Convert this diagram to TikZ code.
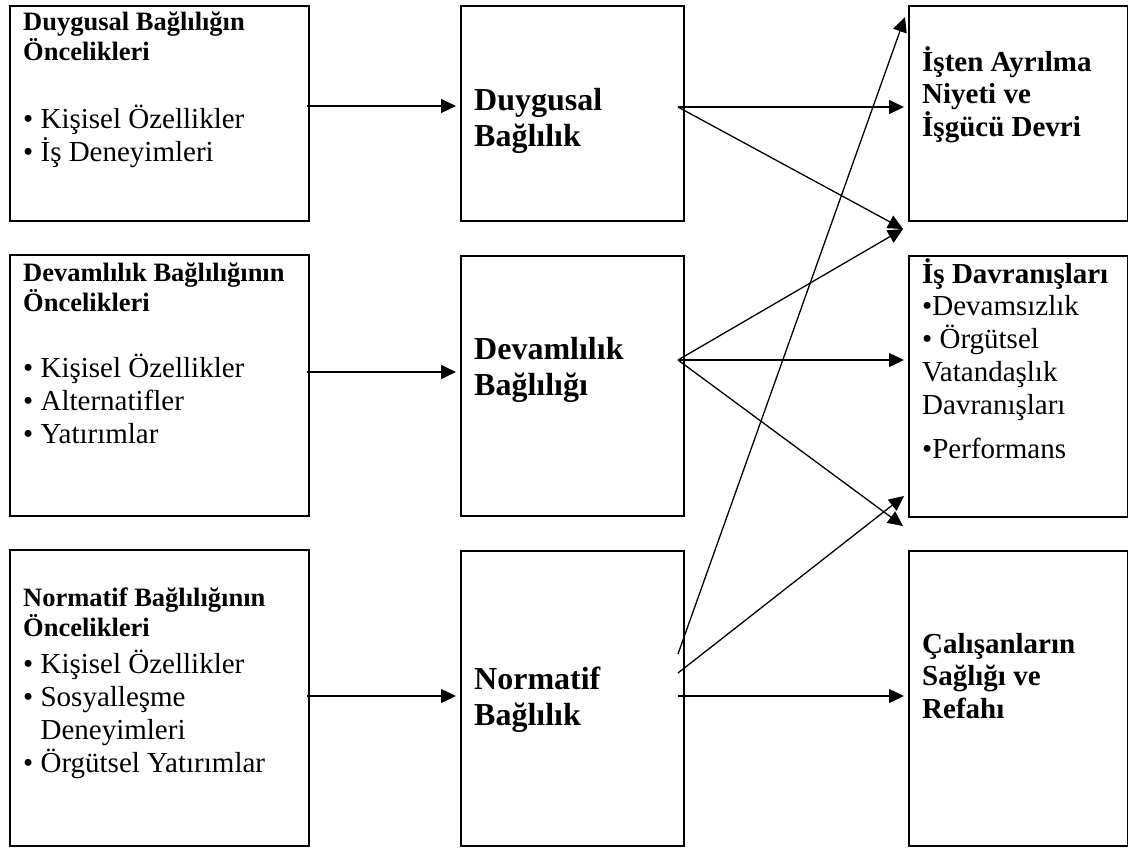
\documentclass[tikz,border=0pt]{standalone}
\usepackage{fontspec}
\setmainfont{Liberation Serif}
\usetikzlibrary{arrows.meta}
\newcommand\fTitleL{\fontsize{26.5}{30.5}\selectfont\bfseries}
\newcommand\fItem{\fontsize{29}{33.3}\selectfont}
\newcommand\fMid{\fontsize{32}{36}\selectfont\bfseries}
\newcommand\fTitleR{\fontsize{29}{32.5}\selectfont\bfseries}
\newcommand\tx[2]{\parbox[t]{#1}{#2}}
\begin{document}
\begin{tikzpicture}[x=1pt,y=-1pt,
  box/.style={draw,line width=1.8pt,inner sep=0pt,anchor=north west},
  txt/.style={anchor=base west,inner sep=0pt},
  arr/.style={line width=1.3pt,-{Triangle[length=15pt,width=14pt]}}]
\useasboundingbox (0,0) rectangle (1128,847);
% boxes
\node[box,minimum width=299pt,minimum height=215pt] (l1) at (9,5) {};
\node[box,minimum width=299pt,minimum height=261pt] (l2) at (9,254) {};
\node[box,minimum width=299pt,minimum height=296pt] (l3) at (9,549) {};
\node[box,minimum width=223pt,minimum height=215pt] (m1) at (460,5) {};
\node[box,minimum width=223pt,minimum height=260pt] (m2) at (460,255) {};
\node[box,minimum width=223pt,minimum height=295pt] (m3) at (460,550) {};
\node[box,minimum width=219pt,minimum height=215pt] (r1) at (908,5) {};
\node[box,minimum width=219pt,minimum height=261pt] (r2) at (908,255) {};
\node[box,minimum width=219pt,minimum height=295pt] (r3) at (908,550) {};
% texts
\node[txt] (l1t) at (23,30) {\tx{400pt}{\fTitleL Duygusal Bağlılığın\\Öncelikleri}};
\node[txt] (l1b) at (23,128) {\tx{400pt}{\fItem • Kişisel Özellikler\\• İş Deneyimleri}};
\node[txt] (l2t) at (23,281) {\tx{400pt}{\fTitleL Devamlılık Bağlılığının\\Öncelikleri}};
\node[txt] (l2b) at (23,377) {\tx{400pt}{\fItem • Kişisel Özellikler\\• Alternatifler\\• Yatırımlar}};
\node[txt] (l3t) at (23,606) {\tx{400pt}{\fTitleL Normatif Bağlılığının\\Öncelikleri}};
\node[txt] (l3b) at (23,673) {\tx{400pt}{\fItem • Kişisel Özellikler\\• Sosyalleşme\\\hphantom{• }Deneyimleri\\• Örgütsel Yatırımlar}};
\node[txt] (m1t) at (474,110) {\tx{300pt}{\fMid Duygusal\\Bağlılık}};
\node[txt] (m2t) at (474,359) {\tx{300pt}{\fMid Devamlılık\\Bağlılığı}};
\node[txt] (m3t) at (474,689) {\tx{300pt}{\fMid Normatif\\Bağlılık}};
\node[txt] (r1t) at (922,71) {\tx{300pt}{\fTitleR İşten Ayrılma\\Niyeti ve\\İşgücü Devri}};
\node[txt] (r2t) at (922,283) {\tx{300pt}{\fTitleR İş Davranışları}};
\node[txt] (r2b) at (922,315) {\tx{300pt}{\fItem •Devamsızlık\\• Örgütsel\\Vatandaşlık\\Davranışları\\[10pt]•Performans}};
\node[txt] (r3t) at (922,653) {\tx{300pt}{\fTitleR Çalışanların\\Sağlığı ve\\Refahı}};
% connector ends
\coordinate (l1o) at (307,106);
\coordinate (l2o) at (307,372);
\coordinate (l3o) at (307,696);
\coordinate (m1i) at (456,106);
\coordinate (m2i) at (456,372);
\coordinate (m3i) at (456,696);
\coordinate (m1o) at (678,107);
\coordinate (m2o) at (678,360);
\coordinate (m3a) at (678,654);
\coordinate (m3b) at (678,673);
\coordinate (m3c) at (678,696);
\coordinate (r1a) at (904,107);
\coordinate (r1x) at (903,229);
\coordinate (r1top) at (905,17);
\coordinate (r2a) at (904,360);
\coordinate (r2low) at (903,526);
\coordinate (r2in) at (904,496);
\coordinate (r3a) at (904,696);
% connectors
\draw[arr] (l1o) -- (m1i);
\draw[arr] (l2o) -- (m2i);
\draw[arr] (l3o) -- (m3i);
\draw[arr] (m1o) -- (r1a);
\draw[arr] (m1o) -- (r1x);
\draw[arr] (m2o) -- (r1x);
\draw[arr] (m2o) -- (r2a);
\draw[arr] (m2o) -- (r2low);
\draw[arr] (m3a) -- (r1top);
\draw[arr] (m3b) -- (r2in);
\draw[arr] (m3c) -- (r3a);
\end{tikzpicture}
\end{document}
